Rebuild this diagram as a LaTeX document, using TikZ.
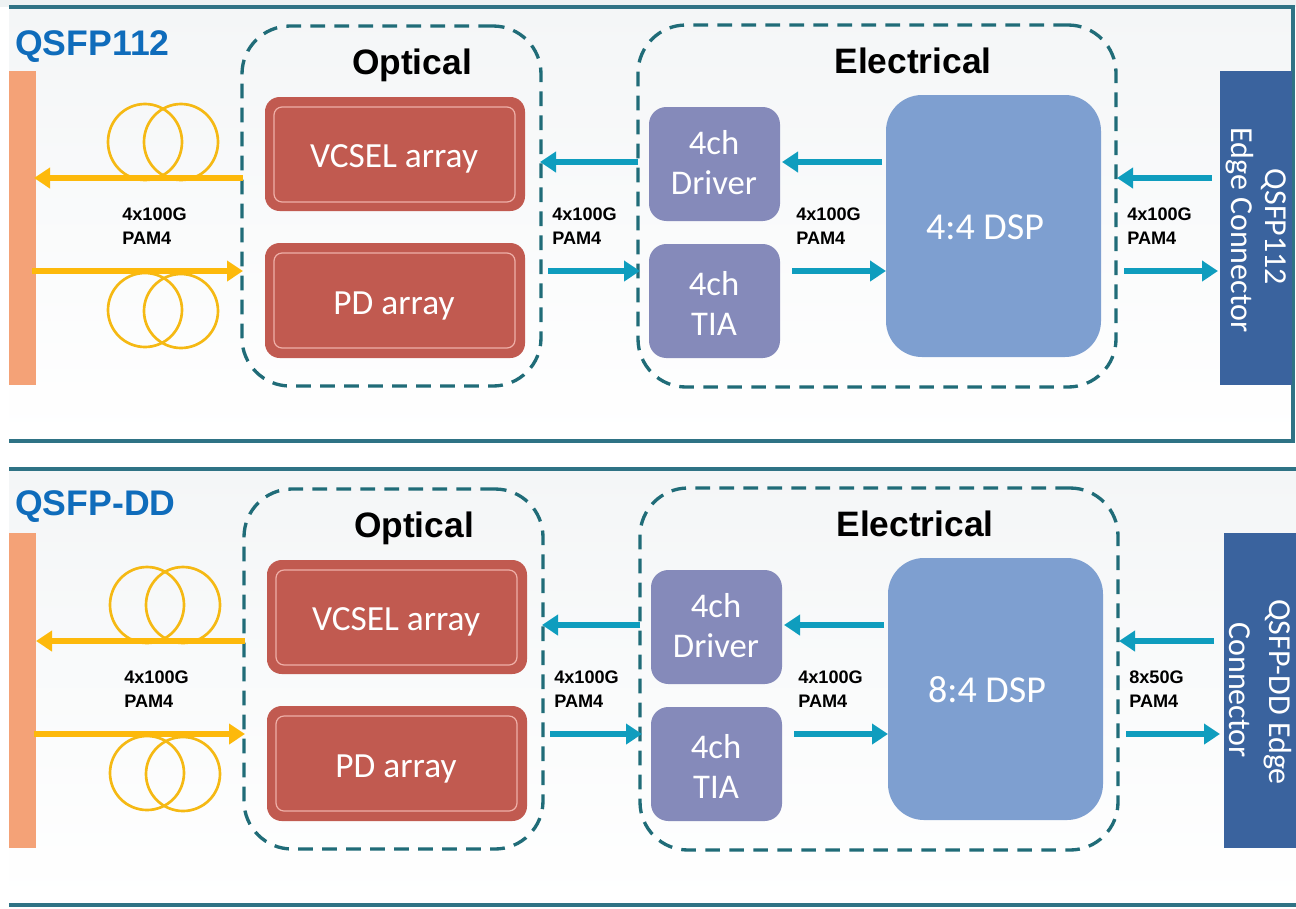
\documentclass[tikz,border=0pt]{standalone}
\usepackage{fontspec}
\setmainfont{Liberation Sans}
\newfontfamily\calfont{Carlito}
\usetikzlibrary{fit,arrows.meta}
\definecolor{frameC}{HTML}{2F7385}
\definecolor{dashC}{HTML}{206C78}
\definecolor{orangeC}{HTML}{F4A277}
\definecolor{fiberC}{HTML}{F5B914}
\definecolor{arrowY}{HTML}{FDB90B}
\definecolor{arrowB}{HTML}{0F9DBE}
\definecolor{redC}{HTML}{C15A50}
\definecolor{redL}{HTML}{EFB0A8}
\definecolor{purpC}{HTML}{858ABA}
\definecolor{dspC}{HTML}{7E9FD0}
\definecolor{connC}{HTML}{3A639E}
\definecolor{titleC}{HTML}{0F6CBB}
\definecolor{bgA}{HTML}{EEF2F3}
\definecolor{bgB}{HTML}{F4F6F7}
\tikzset{
  framebar/.style={line width=2.4pt,draw=frameC},
  groupbox/.style={draw=dashC,line width=2.5pt,dash pattern=on 11pt off 7pt,rounded corners=36pt,inner sep=0pt},
  redbox/.style={fill=redC,rounded corners=11pt,inner sep=0pt,text=white},
  redline/.style={draw=redL,line width=0.9pt,rounded corners=6pt},
  chbox/.style={fill=purpC,rounded corners=13pt,inner sep=0pt,text=white,align=center,font=\calfont\fontsize{26}{30}\selectfont},
  dspbox/.style={fill=dspC,rounded corners=27pt,inner sep=0pt,text=white},
  boxtext/.style={text=white,font=\calfont\fontsize{26.5}{30}\selectfont,inner sep=0pt},
  dsptext/.style={text=white,font=\calfont\fontsize{28.5}{30}\selectfont,inner sep=0pt},
  endbar/.style={fill=orangeC,inner sep=0pt},
  connbar/.style={fill=connC,inner sep=0pt},
  connlabel/.style={rotate=-90,text=white,font=\calfont\fontsize{24}{28}\selectfont,inner sep=0pt},
  coil/.style={draw=fiberC,line width=2pt},
  yarrow/.style={draw=arrowY,line width=4.4pt,-{Triangle[length=12pt,width=15pt]}},
  barrow/.style={draw=arrowB,line width=3.8pt,-{Triangle[length=12pt,width=15pt]}},
  ratelabel/.style={font=\bfseries\fontsize{13.6}{17.5}\selectfont,align=left,anchor=north west,inner sep=0pt},
  headlabel/.style={font=\bfseries\fontsize{26.5}{30}\selectfont,inner sep=0pt},
  panellabel/.style={font=\bfseries\fontsize{26.7}{30}\selectfont,text=titleC,anchor=west,inner sep=0pt},
}
% #1 prefix, #2 first DSP text, #3 rate at the connector
\newcommand{\panelbody}[3]{%
  \node[groupbox,fit={(242,26)(541,386)}] (#1opt) {};
  \node[groupbox,fit={(638,25)(1116,387)}] (#1ele) {};
  \node[headlabel] (#1optT) at (412,65) {Optical};
  \node[headlabel] (#1eleT) at (913,61) {Electrical};
  \node[redbox,fit={(265,97)(525,211)}] (#1vc) {};
  \node[redbox,fit={(265,243)(525,358)}] (#1pd) {};
  \draw[redline] (274,107) rectangle (515,202);
  \draw[redline] (274,253) rectangle (515,348);
  \node[boxtext] (#1vcT) at (394,159) {VCSEL array};
  \node[boxtext] (#1pdT) at (394,306) {PD array};
  \node[chbox,fit={(649,107)(780,221)}] (#1drv) {};
  \node[chbox,fit={(649,244)(780,358)}] (#1tia) {};
  \node[chbox,fill=none] (#1drvT) at (714,163) {4ch\\Driver};
  \node[chbox,fill=none] (#1tiaT) at (714,303) {4ch\\TIA};
  \node[dspbox,fit={(886,95)(1101,357)}] (#1dsp) {};
  \node[dsptext] (#1dspT) at (985,227) {#2};
  \draw[coil] (145,142) ellipse (37 and 38);
  \draw[coil] (181,142) ellipse (37 and 38);
  \draw[coil] (145,310) ellipse (37 and 37);
  \draw[coil] (181,311) ellipse (37 and 37);
  \coordinate (#1a1) at (243,178); \coordinate (#1a2) at (34,178);
  \coordinate (#1b1) at (32,271);  \coordinate (#1b2) at (243,271);
  \draw[yarrow] (#1a1) -- (#1a2);
  \draw[yarrow] (#1b1) -- (#1b2);
  \coordinate (#1c1) at (638,162); \coordinate (#1c2) at (540,162);
  \coordinate (#1d1) at (548,271); \coordinate (#1d2) at (640,271);
  \coordinate (#1e1) at (882,162); \coordinate (#1e2) at (782,162);
  \coordinate (#1f1) at (792,271); \coordinate (#1f2) at (886,271);
  \coordinate (#1g1) at (1212,178); \coordinate (#1g2) at (1117,178);
  \coordinate (#1h1) at (1124,271); \coordinate (#1h2) at (1218,271);
  \foreach \q in {c,d,e,f,g,h} {\draw[barrow] (#1\q1) -- (#1\q2);}
  \node[ratelabel] (#1r1) at (122,208) {4x100G\\PAM4};
  \node[ratelabel] (#1r2) at (552,208) {4x100G\\PAM4};
  \node[ratelabel] (#1r3) at (796,208) {4x100G\\PAM4};
  \node[ratelabel] (#1r4) at (1127,208) {#3\\PAM4};
}
\begin{document}
\begin{tikzpicture}[x=0.75pt,y=-0.75pt]
\useasboundingbox (0,0) rectangle (1296,908);
\fill[white] (0,0) rectangle (1296,908);
\fill[bgA] (0,0) rectangle (1296,7);
\fill[top color=bgB,bottom color=white] (9,7) rectangle (1293,441);
\fill[top color=bgB,bottom color=white] (9,469) rectangle (1296,905);
\draw[framebar] (9,7) -- (1293,7) -- (1293,441) -- (9,441);
\draw[framebar] (9,469) -- (1296,469);
\draw[framebar] (9,905) -- (1296,905);
% top panel
\node[panellabel] (t1) at (15,47) {QSFP112};
\node[endbar,fit={(9,71)(36,385)}] (tend) {};
\node[connbar,fit={(1220,71)(1292,385)}] (tcon) {};
\panelbody{u}{4:4 DSP}{4x100G}
\node[connlabel] (tc1) at (1274,227) {QSFP112};
\node[connlabel] (tc2) at (1240,230) {Edge Connector};
% bottom panel
\node[panellabel] (b1) at (15,507) {QSFP-DD};
\node[endbar,fit={(9,533)(36,848)}] (bend) {};
\node[connbar,fit={(1224,533)(1296,848)}] (bcon) {};
\begin{scope}[shift={(2,463)}]
\panelbody{l}{8:4 DSP}{8x50G}
\end{scope}
\node[connlabel] (bc1) at (1278,692) {QSFP-DD Edge};
\node[connlabel] (bc2) at (1240,690) {Connector};
\end{tikzpicture}
\end{document}
